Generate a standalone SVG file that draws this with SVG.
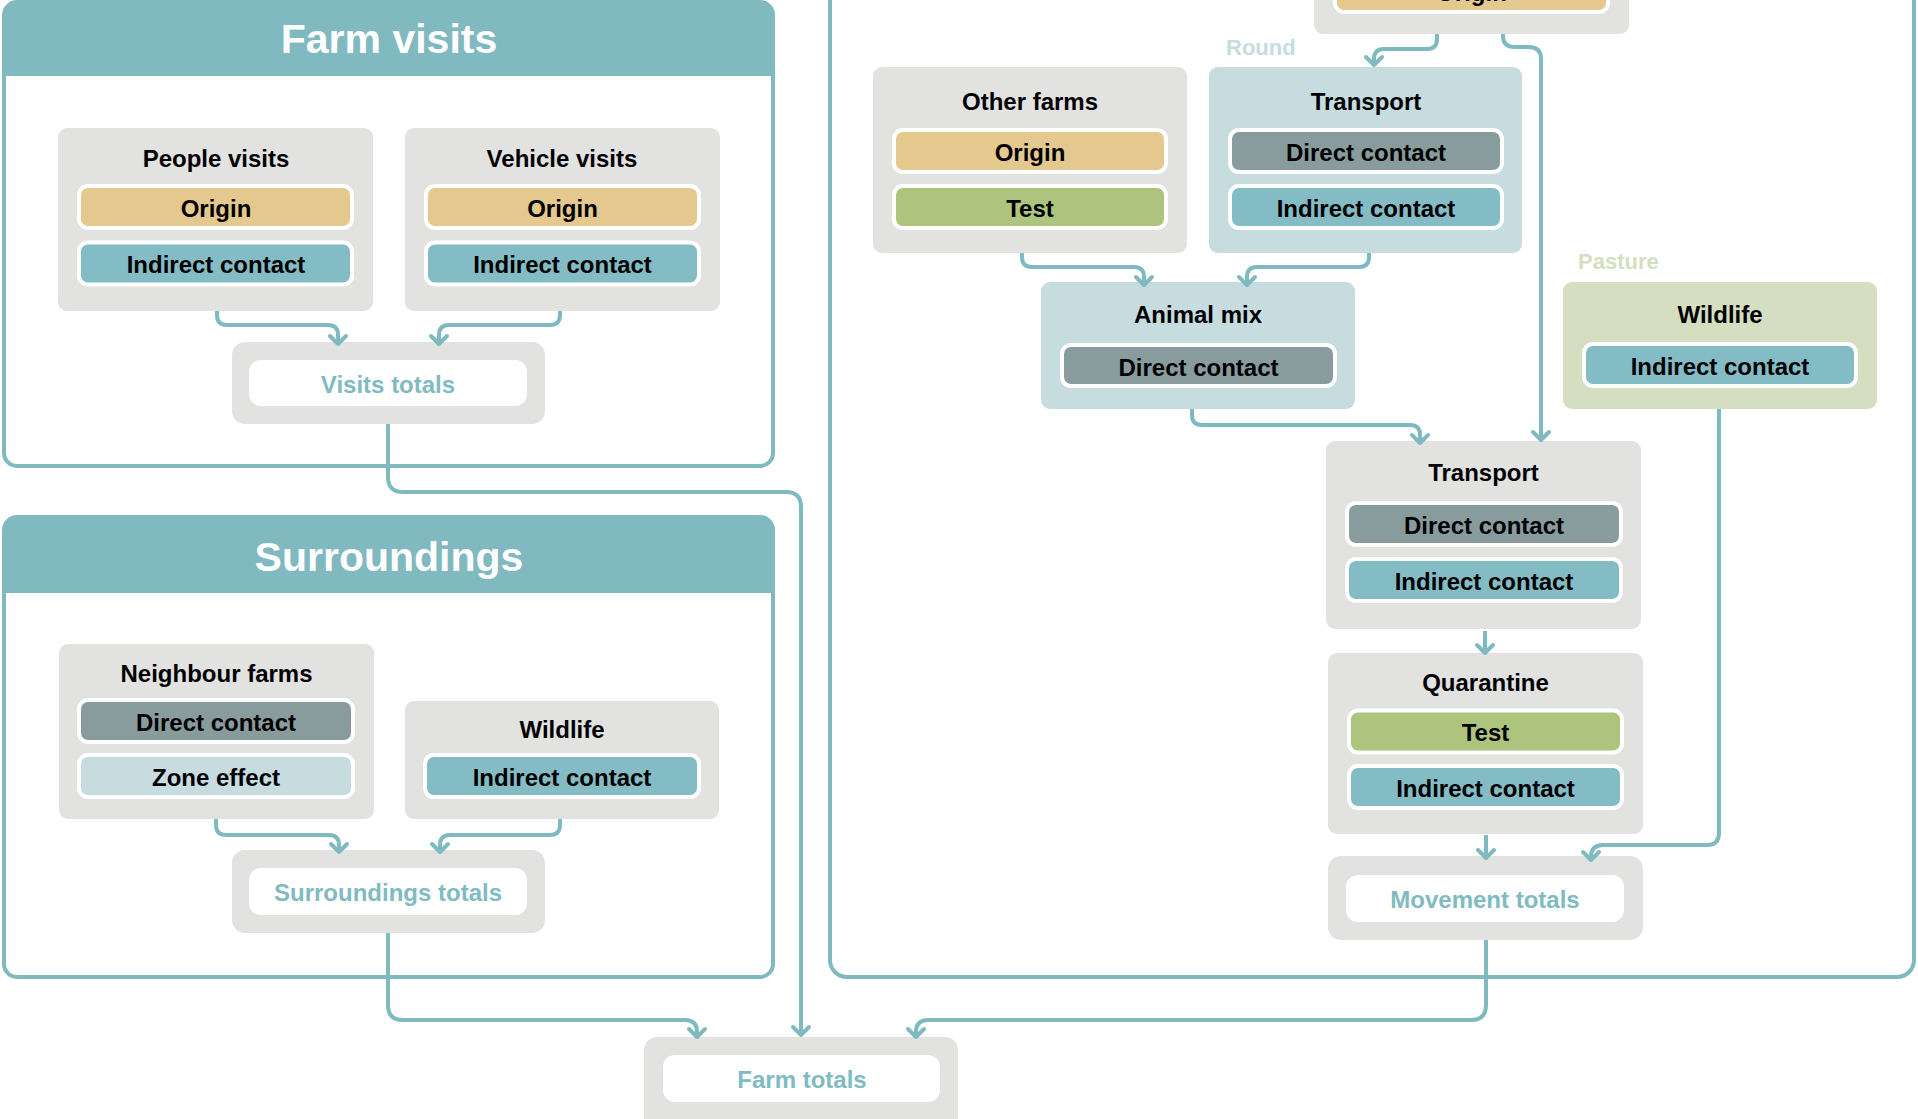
<svg xmlns="http://www.w3.org/2000/svg" width="1918" height="1119" viewBox="0 0 1918 1119">
<defs>
<style>
.box{fill:#e2e2e1}
.blue{fill:#c6dcdf}
.green{fill:#d5dec0}
.pill{stroke:#fff;stroke-width:4}
.origin{fill:#e5c88e}
.indirect{fill:#84bcc5}
.direct{fill:#889c9e}
.test{fill:#adc47f}
.zone{fill:#c6dcdf}
.inner{fill:#fff}
text{font-family:"Liberation Sans",Arial,sans-serif;font-weight:bold}
.t{font-size:24px;fill:#000;text-anchor:middle}
.tot{font-size:24px;fill:#80bbc2;text-anchor:middle}
.hdr{font-size:41px;fill:#fff;text-anchor:middle}
.lbl{font-size:22px}
.panel{fill:#fff;stroke:#80b9c0;stroke-width:4}
.head{fill:#80b9c0}
#connectors path{fill:none;stroke:#80bac1;stroke-width:4;stroke-linejoin:round;marker-end:url(#arr)}
</style>
<marker id="arr" viewBox="-12 -12 24 24" markerWidth="24" markerHeight="24" refX="0" refY="0" orient="auto" markerUnits="userSpaceOnUse">
<path d="M-8,-8 L0,0 L-8,8" fill="none" stroke="#80bac1" stroke-width="4" stroke-linecap="round" stroke-linejoin="round"/>
</marker>
</defs>
<rect width="1918" height="1119" fill="#fff"/>

<!-- Panels -->
<g id="panel-farm-visits">
<rect class="panel" x="4" y="2" width="769" height="464" rx="13"/>
<path class="head" d="M4,76 V15 Q4,2 17,2 H760 Q773,2 773,15 V76 Z"/>
<text class="hdr" x="389" y="53">Farm visits</text>
</g>
<g id="panel-surroundings">
<rect class="panel" x="4" y="517" width="769" height="460" rx="13"/>
<path class="head" d="M4,593 V530 Q4,517 17,517 H760 Q773,517 773,530 V593 Z"/>
<text class="hdr" x="389" y="571">Surroundings</text>
</g>
<g id="panel-movement">
<rect class="panel" x="830" y="-60" width="1084" height="1037" rx="17"/>
<text class="lbl" x="1226" y="55" fill="#c6dcdf">Round</text>
<text class="lbl" x="1578" y="269" fill="#d5dec0">Pasture</text>
</g>

<!-- Farm visits nodes -->
<g id="people-visits">
<rect class="box" x="58" y="128" width="315" height="183" rx="9"/>
<text class="t" x="216" y="167">People visits</text>
<rect class="pill origin" x="79" y="186" width="273" height="42" rx="9"/>
<text class="t" x="216" y="216.5">Origin</text>
<rect class="pill indirect" x="79" y="242.5" width="273" height="42" rx="9"/>
<text class="t" x="216" y="273">Indirect contact</text>
</g>
<g id="vehicle-visits">
<rect class="box" x="405" y="128" width="315" height="183" rx="9"/>
<text class="t" x="562" y="167">Vehicle visits</text>
<rect class="pill origin" x="426" y="186" width="273" height="42" rx="9"/>
<text class="t" x="562.5" y="216.5">Origin</text>
<rect class="pill indirect" x="426" y="242.5" width="273" height="42" rx="9"/>
<text class="t" x="562.5" y="273">Indirect contact</text>
</g>
<g id="visits-totals">
<rect class="box" x="232" y="342" width="313" height="82" rx="13"/>
<rect class="inner" x="249" y="360" width="278" height="46" rx="12"/>
<text class="tot" x="388" y="392.5">Visits totals</text>
</g>

<!-- Surroundings nodes -->
<g id="neighbour-farms">
<rect class="box" x="59" y="644" width="315" height="175" rx="9"/>
<text class="t" x="216.5" y="682">Neighbour farms</text>
<rect class="pill direct" x="79" y="700" width="274" height="42" rx="9"/>
<text class="t" x="216" y="730.5">Direct contact</text>
<rect class="pill zone" x="79" y="755" width="274" height="42" rx="9"/>
<text class="t" x="216" y="786">Zone effect</text>
</g>
<g id="surroundings-wildlife">
<rect class="box" x="405" y="701" width="314" height="118" rx="9"/>
<text class="t" x="562" y="738">Wildlife</text>
<rect class="pill indirect" x="425" y="755" width="274" height="42" rx="9"/>
<text class="t" x="562" y="786">Indirect contact</text>
</g>
<g id="surroundings-totals">
<rect class="box" x="232" y="850" width="313" height="83" rx="13"/>
<rect class="inner" x="249" y="868" width="278" height="47" rx="12"/>
<text class="tot" x="388" y="901">Surroundings totals</text>
</g>

<!-- Movement nodes -->
<g id="top-origin">
<rect class="box" x="1314" y="-150" width="315" height="184" rx="9"/>
<rect class="pill origin" x="1335" y="-28" width="273" height="40" rx="9"/>
<text class="t" x="1471.5" y="1">Origin</text>
</g>
<g id="other-farms">
<rect class="box" x="873" y="67" width="314" height="186" rx="9"/>
<text class="t" x="1030" y="110">Other farms</text>
<rect class="pill origin" x="894" y="130" width="272" height="42" rx="9"/>
<text class="t" x="1030" y="160.5">Origin</text>
<rect class="pill test" x="894" y="186" width="272" height="42" rx="9"/>
<text class="t" x="1030" y="216.5">Test</text>
</g>
<g id="transport-round">
<rect class="blue" x="1209" y="67" width="313" height="186" rx="9"/>
<text class="t" x="1366" y="110">Transport</text>
<rect class="pill direct" x="1230" y="130" width="272" height="42" rx="9"/>
<text class="t" x="1366" y="160.5">Direct contact</text>
<rect class="pill indirect" x="1230" y="186" width="272" height="42" rx="9"/>
<text class="t" x="1366" y="216.5">Indirect contact</text>
</g>
<g id="animal-mix">
<rect class="blue" x="1041" y="282" width="314" height="127" rx="9"/>
<text class="t" x="1198" y="323">Animal mix</text>
<rect class="pill direct" x="1062" y="345" width="273" height="41" rx="9"/>
<text class="t" x="1198.5" y="375.5">Direct contact</text>
</g>
<g id="pasture-wildlife">
<rect class="green" x="1563" y="282" width="314" height="127" rx="9"/>
<text class="t" x="1720" y="323">Wildlife</text>
<rect class="pill indirect" x="1584" y="344" width="272" height="42" rx="9"/>
<text class="t" x="1720" y="375">Indirect contact</text>
</g>
<g id="transport">
<rect class="box" x="1326" y="441" width="315" height="188" rx="9"/>
<text class="t" x="1483.5" y="480.5">Transport</text>
<rect class="pill direct" x="1347" y="503" width="274" height="42" rx="9"/>
<text class="t" x="1484" y="533.5">Direct contact</text>
<rect class="pill indirect" x="1347" y="559" width="274" height="42" rx="9"/>
<text class="t" x="1484" y="590">Indirect contact</text>
</g>
<g id="quarantine">
<rect class="box" x="1328" y="653" width="315" height="181" rx="9"/>
<text class="t" x="1485.5" y="691">Quarantine</text>
<rect class="pill test" x="1349" y="710.5" width="273" height="42" rx="9"/>
<text class="t" x="1485.5" y="741">Test</text>
<rect class="pill indirect" x="1349" y="766" width="273" height="42" rx="9"/>
<text class="t" x="1485.5" y="797">Indirect contact</text>
</g>
<g id="movement-totals">
<rect class="box" x="1328" y="856" width="315" height="84" rx="13"/>
<rect class="inner" x="1346" y="875" width="278" height="47" rx="12"/>
<text class="tot" x="1485" y="908">Movement totals</text>
</g>

<!-- Farm totals -->
<g id="farm-totals">
<rect class="box" x="644" y="1037" width="314" height="100" rx="13"/>
<rect class="inner" x="663" y="1055" width="277" height="47" rx="12"/>
<text class="tot" x="802" y="1088">Farm totals</text>
</g>

<!-- Connectors -->
<g id="connectors">
<path d="M217,311 V315 Q217,325 227,325 H328 Q338,325 338,335 V344"/>
<path d="M560,311 V315 Q560,325 550,325 H449 Q439,325 439,335 V344"/>
<path d="M216,819 V825 Q216,835 226,835 H329 Q339,835 339,845 V852"/>
<path d="M560,819 V825 Q560,835 550,835 H450 Q440,835 440,845 V852"/>
<path d="M388,424 V477 Q388,492 403,492 H786 Q801,492 801,507 V1035"/>
<path d="M388,933 V1005 Q388,1020 403,1020 H685 Q697,1020 697,1032 V1037"/>
<path d="M1486,940 V1005 Q1486,1020 1471,1020 H928 Q916,1020 916,1032 V1037"/>
<path d="M1437,34 V39 Q1437,49 1427,49 H1384 Q1374,49 1374,59 V65"/>
<path d="M1503,34 V36 Q1503,47 1515,47 H1529 Q1541,47 1541,59 V440"/>
<path d="M1022,253 V257 Q1022,267 1032,267 H1134 Q1144,267 1144,277 V285"/>
<path d="M1369,253 V257 Q1369,267 1359,267 H1257 Q1247,267 1247,277 V285"/>
<path d="M1192,409 V415 Q1192,425 1202,425 H1410 Q1420,425 1420,435 V443"/>
<path d="M1719,409 V833 Q1719,845 1707,845 H1603 Q1591,845 1591,857 V860"/>
<path d="M1485,631 V653"/>
<path d="M1486,835 V858"/>
</g>
</svg>
